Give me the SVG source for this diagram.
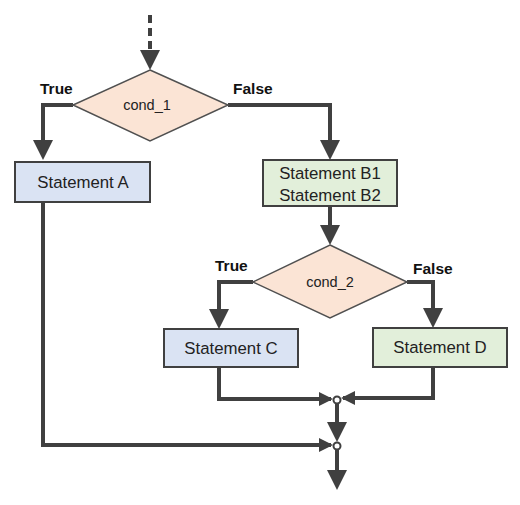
<svg xmlns="http://www.w3.org/2000/svg" width="520" height="505" viewBox="0 0 520 505">
<style>
.ln{fill:none;stroke:#404040;stroke-width:4}
.dash{stroke-dasharray:8,5}
.big{marker-end:url(#ab)}
.sm{marker-end:url(#as)}
.dia{fill:#fbe4d5;stroke:#505050;stroke-width:1.5}
.blue{fill:#dae3f3;stroke:#404040;stroke-width:2}
.green{fill:#e2efda;stroke:#404040;stroke-width:2}
.t{font-family:"Liberation Sans",Arial,sans-serif;font-size:16.8px;fill:#222;text-anchor:middle}
.c{font-family:"Liberation Sans",Arial,sans-serif;font-size:14.5px;fill:#222;text-anchor:middle}
.lab{font-family:"Liberation Sans",Arial,sans-serif;font-size:15.5px;font-weight:bold;fill:#111}
.dot{fill:#fff;stroke:#404040;stroke-width:2}
</style>
<defs>
<marker id="ab" markerUnits="userSpaceOnUse" markerWidth="20" markerHeight="20" viewBox="0 0 20 20" refX="16" refY="10" orient="auto"><path d="M0,0 L20,10 L0,20 z" fill="#404040"/></marker>
<marker id="as" markerUnits="userSpaceOnUse" markerWidth="14" markerHeight="14" viewBox="0 0 14 14" refX="12" refY="7" orient="auto"><path d="M0,0 L14,7 L0,14 z" fill="#404040"/></marker>
</defs>
<g id="connectors">
<path class="ln dash big" d="M150,15 V66"/>
<path class="ln big" d="M73,105 H43 V156"/>
<path class="ln big" d="M228,105 H330 V156"/>
<path class="ln big" d="M330,206 V241"/>
<path class="ln big" d="M253,282 H219 V325"/>
<path class="ln big" d="M407,282 H433 V324"/>
<path class="ln sm" d="M219,367 V399 H331"/>
<path class="ln sm" d="M433,367 V398 H343"/>
<path class="ln big" d="M337,404 V438"/>
<path class="ln sm" d="M43,202 V445 H331"/>
<path class="ln big" d="M337,450 V486"/>
<circle class="dot" cx="337" cy="400" r="3.5"/>
<circle class="dot" cx="337" cy="446" r="3.5"/>
</g>
<g id="cond1">
<polygon class="dia" points="150,70 228,105 150,141 73,105"/>
<text class="c" x="147" y="110">cond_1</text>
</g>
<g id="label-true1"><text class="lab" x="40" y="94">True</text></g>
<g id="label-false1"><text class="lab" x="233" y="94">False</text></g>
<g id="stmtA">
<rect class="blue" x="15" y="162" width="135" height="40"/>
<text class="t" x="83" y="188">Statement A</text>
</g>
<g id="stmtB">
<rect class="green" x="263" y="160" width="134" height="46"/>
<text class="t" x="330" y="179">Statement B1</text>
<text class="t" x="330" y="201">Statement B2</text>
</g>
<g id="cond2">
<polygon class="dia" points="330,245 407,282 330,318 253,282"/>
<text class="c" x="330" y="287">cond_2</text>
</g>
<g id="label-true2"><text class="lab" x="215" y="271">True</text></g>
<g id="label-false2"><text class="lab" x="413" y="274">False</text></g>
<g id="stmtC">
<rect class="blue" x="164" y="329" width="134" height="38"/>
<text class="t" x="231" y="354">Statement C</text>
</g>
<g id="stmtD">
<rect class="green" x="373" y="328" width="134" height="39"/>
<text class="t" x="440" y="353">Statement D</text>
</g>
</svg>
